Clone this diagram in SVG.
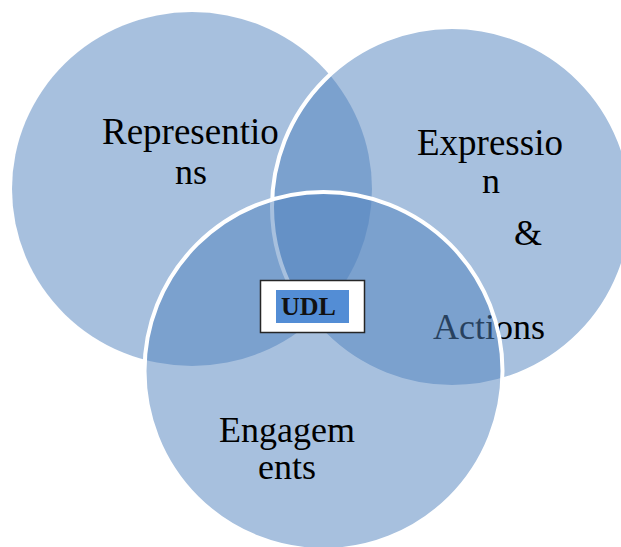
<svg xmlns="http://www.w3.org/2000/svg" width="621" height="547" viewBox="0 0 621 547">
<style>
.c{fill:#4f81bd;fill-opacity:0.5}
.w{stroke:#fff;stroke-width:4}
text{font-family:"Liberation Serif","Times New Roman",serif;font-size:36px;fill:#000}
.b{font-size:37px}
</style>
<rect width="621" height="547" fill="#fff"/>
<g id="representions">
<ellipse class="c" cx="192" cy="189" rx="180" ry="177"/>
<text class="b" x="102" y="144">Representio</text>
<text x="175" y="184">ns</text>
</g>
<g id="expression">
<circle class="c w" cx="452" cy="207" r="180"/>
<text class="b" x="417" y="155">Expressio</text>
<text x="482" y="193">n</text>
<text x="514" y="245">&amp;</text>
<text x="433" y="339">Actions</text>
</g>
<g id="engagements">
<circle class="c w" cx="323.5" cy="371" r="179"/>
<text x="219" y="442">Engagem</text>
<text x="258" y="479">ents</text>
</g>
<g id="udl">
<rect x="260.5" y="280.5" width="104" height="52" fill="#fff" stroke="#262626" stroke-width="1.5"/>
<rect x="276" y="290" width="73" height="33" fill="#538dd5"/>
<text x="281" y="315" style="font-weight:bold;font-size:26px;fill:#111">UDL</text>
</g>
</svg>
